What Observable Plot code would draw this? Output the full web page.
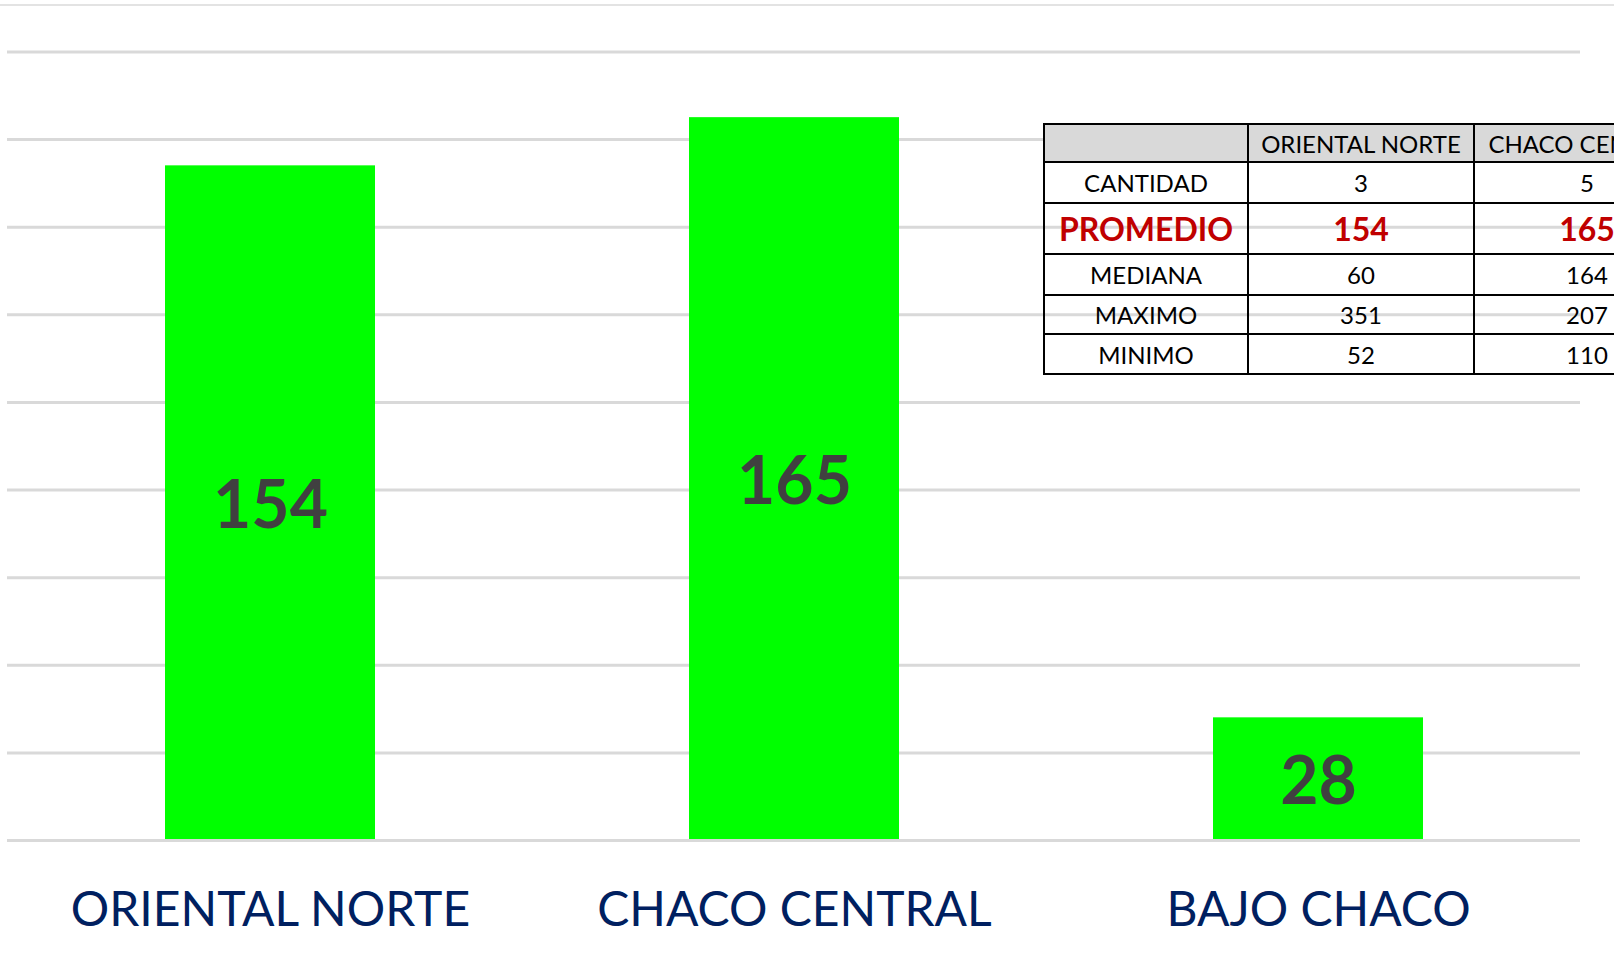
<!DOCTYPE html>
<html>
<head>
<meta charset="utf-8">
<script src="https://cdn.jsdelivr.net/npm/d3@7"></script>
<script src="https://cdn.jsdelivr.net/npm/@observablehq/plot@0.6"></script>
<style>
  html, body { margin: 0; padding: 0; background: #fff; overflow: hidden; }
  #wrap { position: relative; width: 1614px; height: 973px; overflow: hidden; font-family: Lato, "Open Sans", sans-serif; }
  #topline { position: absolute; left: 0; top: 4px; width: 1614px; height: 2px; background: #e3e3e3; }
  #stats { position: absolute; left: 1043px; top: 123px; border-collapse: collapse; table-layout: fixed; font-family: Lato, sans-serif; color: #000; }
  #stats td { border: 2px solid #000; text-align: center; vertical-align: middle; padding: 0; font-size: 24px; white-space: nowrap; overflow: hidden; }
  #stats tr.head td { background: #d9d9d9; }
  #stats tr.hl td { color: #c00000; font-weight: bold; font-size: 32px; }
</style>
</head>
<body>
<div id="wrap">
  <div id="topline"></div>
  <div id="chart"></div>
  <table id="stats"></table>
</div>
<script>
// ---- Data ----
const categories = ["ORIENTAL NORTE", "CHACO CENTRAL", "BAJO CHACO"];
const promedio = [154, 165, 28];
const gridTicks = [20, 40, 60, 80, 100, 120, 140, 160, 180];

const tableColumns = ["ORIENTAL NORTE", "CHACO CENTRAL"];
const tableRows = ["CANTIDAD", "PROMEDIO", "MEDIANA", "MAXIMO", "MINIMO"];
const orientalNorteStats = [3, 154, 60, 351, 52];
const chacoCentralStats = [5, 165, 164, 207, 110];

const data = categories.map((c, i) => ({ region: c, value: promedio[i] }));

const chart = Plot.plot({
  width: 1614,
  height: 973,
  marginTop: 5,
  marginBottom: 133,
  marginLeft: 7,
  marginRight: 34,
  style: { fontFamily: "Lato, sans-serif", background: "transparent" },
  x: { domain: categories, paddingInner: 0.6, paddingOuter: 0.3, axis: null },
  y: { domain: [0, 190.6], axis: null },
  marks: [
    Plot.ruleY(gridTicks, { stroke: "#d9d9d9", strokeWidth: 3 }),
    Plot.barY(data, { x: "region", y: "value", fill: "#00ff00" }),
    Plot.ruleY([0], { stroke: "#d9d9d9", strokeWidth: 3 }),
    Plot.text(data, {
      x: "region", y: d => d.value / 2, text: d => String(d.value), dy: 4,
      fill: "#404040", fontWeight: "bold", fontSize: 66, lineAnchor: "middle"
    }),
    Plot.text(categories, {
      x: d => d, frameAnchor: "bottom", dy: 70, text: d => d,
      fill: "#002060", fontSize: 48, lineAnchor: "middle"
    })
  ]
});
document.getElementById("chart").appendChild(chart);

// ---- Table ----
const table = document.getElementById("stats");
const colWidths = [204, 226, 226];
const rowHeights = [38, 41, 51, 41, 39, 40];
const colgroup = document.createElement("colgroup");
colWidths.forEach(w => { const c = document.createElement("col"); c.style.width = w + "px"; colgroup.appendChild(c); });
table.appendChild(colgroup);
table.style.width = colWidths.reduce((a, b) => a + b, 0) + "px";

const head = document.createElement("tr");
head.className = "head";
head.style.height = rowHeights[0] + "px";
["", ...tableColumns].forEach(t => { const td = document.createElement("td"); td.textContent = t; head.appendChild(td); });
table.appendChild(head);

tableRows.forEach((r, i) => {
  const tr = document.createElement("tr");
  tr.style.height = rowHeights[i + 1] + "px";
  if (r === "PROMEDIO") tr.className = "hl";
  [r, orientalNorteStats[i], chacoCentralStats[i]].forEach(v => {
    const td = document.createElement("td"); td.textContent = v; tr.appendChild(td);
  });
  table.appendChild(tr);
});
</script>
</body>
</html>
